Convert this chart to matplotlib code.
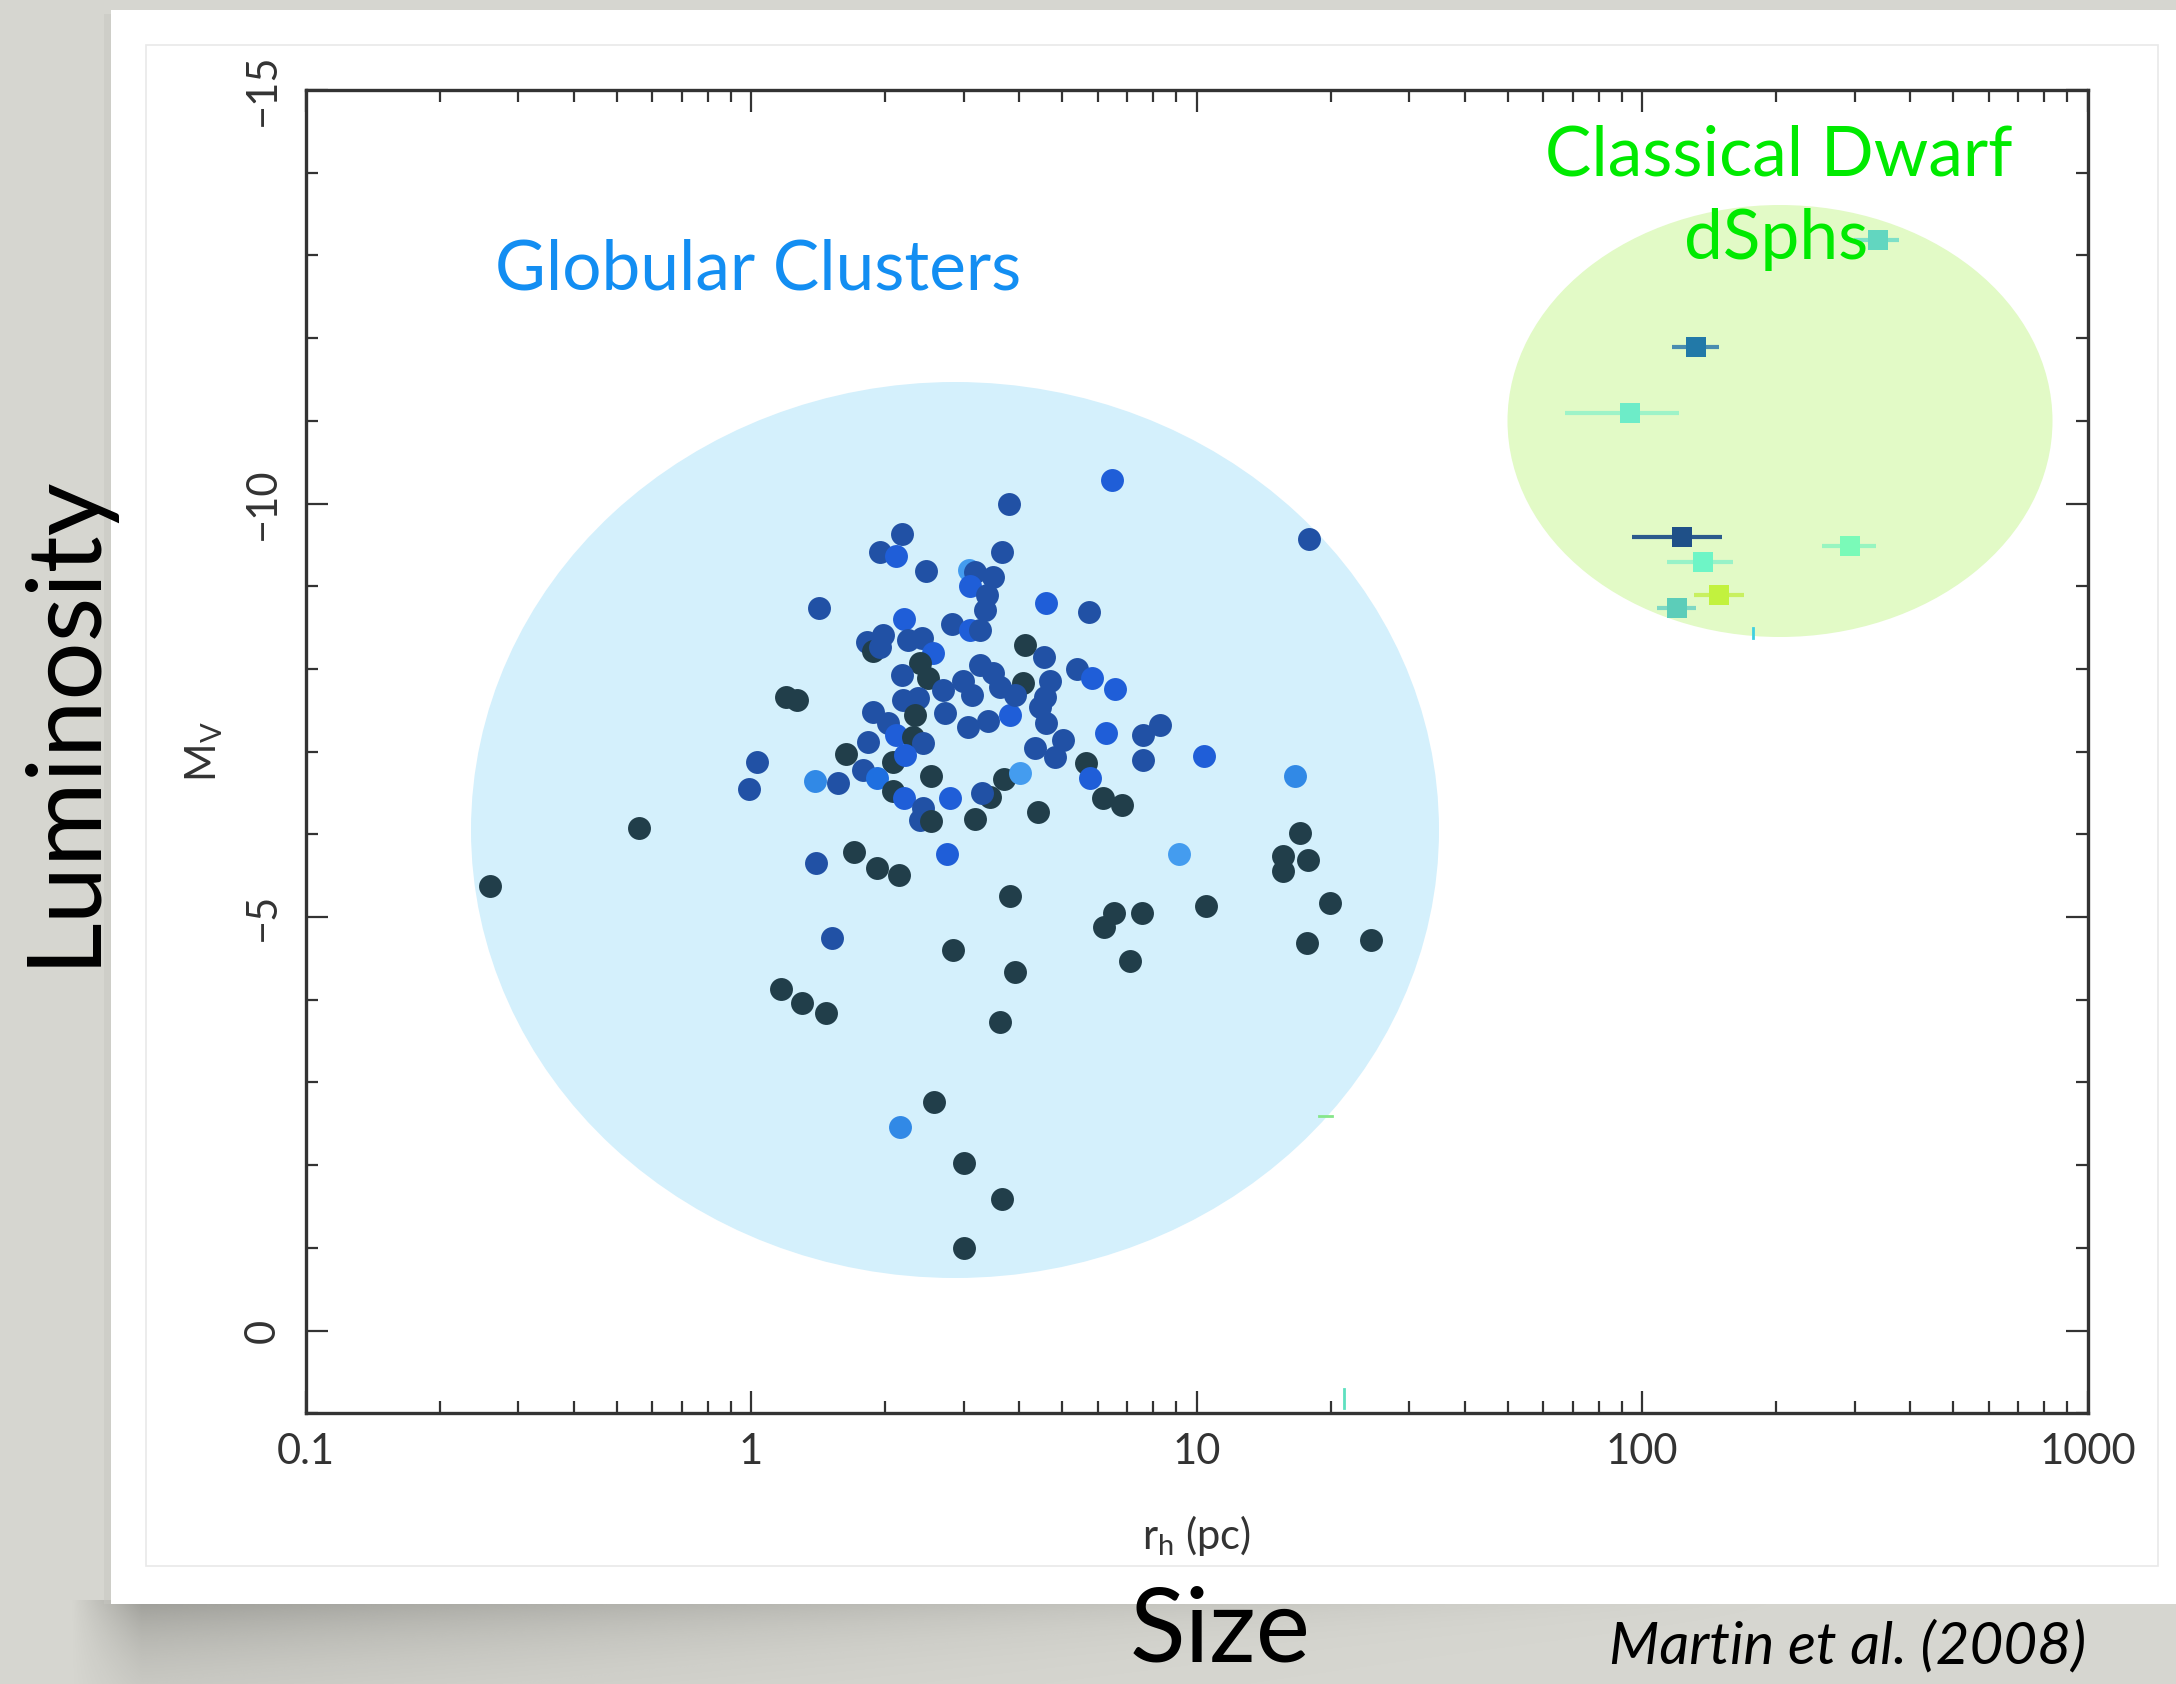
import numpy as np
import matplotlib
matplotlib.use('Agg')
import matplotlib.pyplot as plt
from matplotlib.patches import Ellipse, Rectangle
from matplotlib.ticker import MultipleLocator, LogLocator, FixedLocator, NullFormatter

plt.rcParams['font.family'] = ['Lato', 'DejaVu Sans']
plt.rcParams['mathtext.fontset'] = 'custom'
plt.rcParams['mathtext.rm'] = 'Lato'
plt.rcParams['mathtext.it'] = 'Lato:italic'

# globular clusters: half-light radius (pc), M_V, colour group
gc_rh = [0.26, 0.56, 3.79, 2.18, 1.95, 2.12, 2.47, 3.65, 3.08, 3.18,
         3.49, 3.10, 3.38, 3.35, 2.82, 3.10, 3.27, 1.42, 2.21, 1.82,
         1.88, 1.98, 1.95, 2.25, 2.42, 2.56, 2.40, 2.50, 2.18, 2.70,
         2.99, 3.27, 3.49, 3.13, 3.62, 2.19, 2.37, 2.33, 2.73, 1.88,
         2.03, 2.12, 2.31, 2.43, 3.07, 3.40, 3.81, 1.20, 1.27, 1.83,
         1.63, 2.08, 2.22, 1.78, 1.92, 1.03, 0.99, 1.39, 1.57, 2.54,
         2.08, 2.21, 2.80, 2.43, 2.40, 3.70, 3.44, 3.30, 3.18, 2.53,
         6.45, 17.9, 4.59, 5.74, 4.12, 4.55, 5.38, 5.82, 6.56, 4.07,
         4.69, 4.57, 4.45, 3.91, 4.59, 6.26, 7.59, 8.28, 7.59, 10.4,
         16.6, 4.34, 5.01, 4.81, 5.65, 5.77, 4.02, 6.17, 6.79, 4.40,
         1.40, 1.70, 1.92, 2.15, 2.75, 3.81, 1.52, 2.84, 3.91, 1.17,
         1.30, 1.47, 3.62, 2.58, 2.16, 3.01, 3.65, 3.01, 9.14, 17.1,
         15.6, 17.8, 15.6, 6.53, 6.20, 7.55, 10.5, 19.9, 17.7, 24.7,
         7.09]
gc_mv = [-5.38, -6.08, -10.00, -9.63, -9.41, -9.37, -9.18, -9.41, -9.20, -9.17,
         -9.11, -9.00, -8.89, -8.71, -8.54, -8.47, -8.47, -8.74, -8.60, -8.33,
         -8.22, -8.41, -8.27, -8.35, -8.37, -8.19, -8.07, -7.89, -7.93, -7.75,
         -7.85, -8.05, -7.95, -7.68, -7.78, -7.62, -7.65, -7.44, -7.47, -7.48,
         -7.35, -7.20, -7.18, -7.10, -7.30, -7.37, -7.44, -7.66, -7.62, -7.12,
         -6.97, -6.88, -6.96, -6.78, -6.68, -6.88, -6.55, -6.65, -6.62, -6.70,
         -6.52, -6.44, -6.44, -6.32, -6.17, -6.67, -6.45, -6.50, -6.19, -6.16,
         -10.28, -9.57, -8.80, -8.69, -8.29, -8.15, -8.00, -7.89, -7.76, -7.83,
         -7.86, -7.66, -7.54, -7.68, -7.35, -7.22, -7.20, -7.32, -6.90, -6.95,
         -6.71, -7.04, -7.14, -6.93, -6.86, -6.68, -6.74, -6.44, -6.35, -6.27,
         -5.65, -5.79, -5.59, -5.51, -5.76, -5.26, -4.75, -4.60, -4.34, -4.13,
         -3.96, -3.84, -3.73, -2.76, -2.46, -2.03, -1.59, -1.00, -5.76, -6.02,
         -5.74, -5.69, -5.56, -5.05, -4.88, -5.05, -5.13, -5.17, -4.69, -4.72,
         -4.47]
gc_grp = ['D', 'D', 'N', 'N', 'N', 'B', 'N', 'N', 'L2', 'N',
          'N', 'B', 'N', 'N', 'N', 'B', 'N', 'N', 'B', 'N',
          'D', 'N', 'N', 'N', 'N', 'B', 'D', 'D', 'N', 'N',
          'N', 'N', 'N', 'N', 'N', 'N', 'N', 'D', 'N', 'N',
          'N', 'B', 'D', 'N', 'N', 'N', 'B', 'D', 'D', 'N',
          'D', 'D', 'B', 'N', 'B2', 'N', 'N', 'L', 'N', 'D',
          'D', 'B', 'B', 'N', 'N', 'D', 'D', 'N', 'D', 'D',
          'B', 'N', 'B', 'N', 'D', 'N', 'N', 'B', 'B', 'D',
          'N', 'N', 'N', 'N', 'N', 'B', 'N', 'N', 'N', 'B',
          'L', 'N', 'N', 'N', 'D', 'B', 'L2', 'D', 'D', 'D',
          'N', 'D', 'D', 'D', 'B', 'D', 'N', 'D', 'D', 'D',
          'D', 'D', 'D', 'D', 'L', 'D', 'D', 'D', 'L2', 'D',
          'D', 'D', 'D', 'D', 'D', 'D', 'D', 'D', 'D', 'D',
          'D']
grp_color = {'D': '#213e4a', 'N': '#2151a5', 'B': '#1f5ed8', 'B2': '#1e6fe0',
             'L': '#3189e6', 'L2': '#449cef'}

# classical dwarf spheroidals with r_h error ranges
dw_rh = [338, 132, 94, 123, 137, 293, 149, 120]
dw_lo = [299, 117, 67, 95, 114, 254, 131, 108]
dw_hi = [378, 149, 121, 151, 160, 335, 169, 132]
dw_mv = [-13.19, -11.89, -11.09, -9.59, -9.29, -9.49, -8.89, -8.74]
dw_col = ['#62d6c0', '#2279a8', '#6decc8', '#1f5088', '#6ef5c6', '#7afab8', '#c2f23e', '#5ccdb9']
dw_ecol = ['#7ee0c8', '#4a8db0', '#9ef3c8', '#2b5a8c', '#98f2c8', '#98f5c0', '#c8f060', '#7ed8c4']

# bits of error bars poking out from under the overlay shapes
stray_x0 = [177.5, 18.8, 21.4]
stray_x1 = [177.5, 20.1, 21.4]
stray_y0 = [-8.49, -2.59, 0.71]
stray_y1 = [-8.37, -2.59, 0.94]
stray_col = ['#3fd0e0', '#86e68a', '#5ee0c0']

xticks = [0.1, 1, 10, 100, 1000]
xtick_labels = ['0.1', '1', '10', '100', '1000']
yticks = [-15, -10, -5, 0]
ytick_labels = ['\u221215', '\u221210', '\u22125', '0']

W, H = 2176, 1684
fig = plt.figure(figsize=(W / 100, H / 100), dpi=100, facecolor='#d6d6d0')

# slide background drawn in pixel coordinates
bg = fig.add_axes([0, 0, 1, 1])
bg.set_xlim(0, W)
bg.set_ylim(H, 0)
bg.axis('off')

# soft shadow under the card, darker on the left, fading downwards
xs = np.linspace(60, 1800, 500)
ys = np.linspace(1600, H, 100)
XX, YY = np.meshgrid(xs, ys)
s = np.clip((1800 - XX) / 1650, 0, 1) ** 1.2
left_fade = np.clip((XX - 70) / 70, 0, 1)
depth = 10 + 50 * s
alpha = 0.45 * s * left_fade * np.exp(-(YY - 1604) / depth)
shadow = np.zeros(XX.shape + (4,))
shadow[..., :3] = np.array([95, 95, 90]) / 255
shadow[..., 3] = np.clip(alpha, 0, 1)
bg.imshow(shadow, extent=(60, 1800, H, 1600), aspect='auto', zorder=1, interpolation='bilinear')
bg.add_patch(Rectangle((104, 14), 7, 1590, fc='#c8c8c2', ec='none', alpha=0.5, zorder=1))

bg.add_patch(Rectangle((111, 10), W - 111 + 5, 1594, fc='white', ec='none', zorder=2))
bg.add_patch(Rectangle((146, 45), 2012, 1521, fc='white', ec='#e9e9e9', lw=1.2, zorder=3))

# highlight shapes
bg.add_patch(Ellipse((955, 830), 968, 896, fc='#d4f0fc', ec='none', zorder=4))
bg.add_patch(Ellipse((1780, 421), 545, 432, fc='#e2fac6', ec='none', zorder=4))

# data axes
ax = fig.add_axes([305.5 / W, 1 - 1413.3 / H, 1782 / W, 1323.3 / H])
ax.set_zorder(2)
ax.patch.set_visible(False)
ax.set_xscale('log')
ax.set_xlim(0.1, 1000)
ax.set_ylim(1, -15)

for x, y, g in zip(gc_rh, gc_mv, gc_grp):
    ax.plot(x, y, 'o', ms=16.5, mew=0, color=grp_color[g])

for x, lo, hi, y, c, ec in zip(dw_rh, dw_lo, dw_hi, dw_mv, dw_col, dw_ecol):
    ax.errorbar(x, y, xerr=[[x - lo], [hi - x]], fmt='s', ms=14, mew=0, color=c,
                ecolor=ec, elinewidth=3, capsize=0)

for x0, x1, y0, y1, c in zip(stray_x0, stray_x1, stray_y0, stray_y1, stray_col):
    ax.plot([x0, x1], [y0, y1], color=c, lw=2)

ax.xaxis.set_major_locator(FixedLocator(xticks))
ax.set_xticklabels(xtick_labels)
ax.xaxis.set_minor_locator(LogLocator(base=10, subs=range(2, 10)))
ax.xaxis.set_minor_formatter(NullFormatter())
ax.set_yticks(yticks)
ax.set_yticklabels(ytick_labels, rotation=90, va='center')
ax.yaxis.set_minor_locator(MultipleLocator(1))

ax.tick_params(which='both', direction='in', top=True, right=True, width=1.6, color='#333333')
ax.tick_params(which='major', length=16)
ax.tick_params(which='minor', length=8.5)
ax.tick_params(axis='x', labelsize=30, pad=14, labelcolor='#333333')
ax.tick_params(axis='y', labelsize=30, pad=17, labelcolor='#333333')
for sp in ax.spines.values():
    sp.set_linewidth(2.4)
    sp.set_color('#333333')

ax.set_xlabel(r'r$_\mathrm{h}$ (pc)', fontsize=30, color='#333333')
ax.xaxis.set_label_coords(0.5, -0.0754)
ax.set_ylabel(r'M$_\mathrm{V}$', fontsize=30, color='#333333')
ax.yaxis.set_label_coords(-0.045, 0.5)


def fpos(x, y):
    return x / W, 1 - y / H


fig.text(*fpos(758, 290), 'Globular Clusters', fontsize=50, color='#138ef2', ha='center', va='baseline')
fig.text(*fpos(1779, 176), 'Classical Dwarf', fontsize=50, color='#00ea00', ha='center', va='baseline')
fig.text(*fpos(1776, 259), 'dSphs', fontsize=50, color='#00ea00', ha='center', va='baseline')

fig.text(*fpos(64, 719), 'Luminosity', fontsize=74, rotation=90, ha='center', va='center', color='black')
fig.text(*fpos(1220, 1662), 'Size', fontsize=74, ha='center', va='baseline', color='black')
fig.text(*fpos(1848, 1663), 'Martin et al. (2008)', fontsize=42, style='italic',
         ha='center', va='baseline', color='black')

fig.savefig('out.png', dpi=100, facecolor=fig.get_facecolor())
